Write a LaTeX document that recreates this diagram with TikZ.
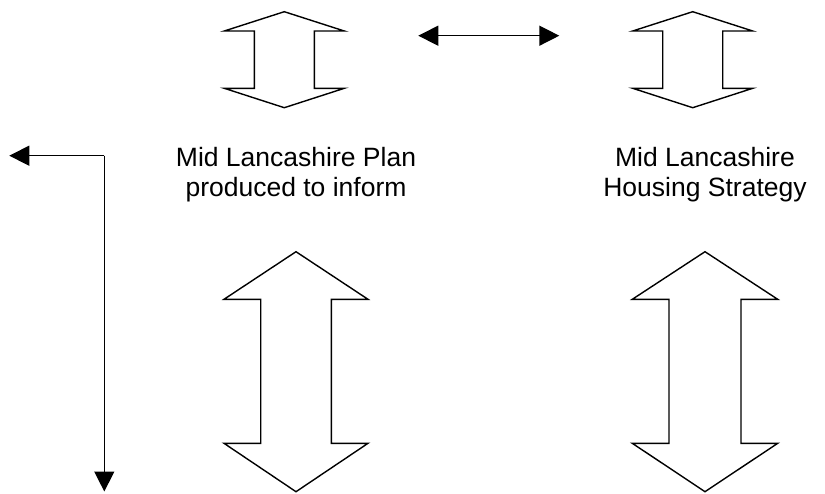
\documentclass[tikz,border=0pt]{standalone}
\usepackage{fontspec}
\setmainfont{Liberation Sans}
\usetikzlibrary{arrows.meta}
\begin{document}
\begin{tikzpicture}[x=1pt,y=-1pt,
  outline/.style={draw=black,line width=1.4pt,line join=miter,fill=white},
  conn/.style={draw=black,line width=1.4pt},
  tipA/.style={-{Triangle[length=20pt,width=20pt]}},
  tipB/.style={{Triangle[length=20pt,width=20pt]}-{Triangle[length=20pt,width=20pt]}},
  lbl/.style={font=\fontsize{26.5pt}{30pt}\selectfont,anchor=base,inner sep=0pt}]
\useasboundingbox (0,0) rectangle (825,493);
% top-left outline double arrow
\draw[outline] (284.3,11.7) -- (344.3,31) -- (314.3,31) -- (314.3,88.3) -- (344.3,88.3)
  -- (284.3,107.7) -- (224.3,88.3) -- (254.3,88.3) -- (254.3,31) -- (224.3,31) -- cycle;
% top-right outline double arrow
\draw[outline] (692.7,11.7) -- (752.7,31) -- (722.7,31) -- (722.7,88.3) -- (752.7,88.3)
  -- (692.7,107.7) -- (632.7,88.3) -- (662.7,88.3) -- (662.7,31) -- (632.7,31) -- cycle;
% bottom-left outline double arrow
\draw[outline] (296,251.7) -- (368,299.3) -- (331.3,299.3) -- (331.3,443.3) -- (368,443.3)
  -- (296,491.7) -- (224,443.3) -- (260.7,443.3) -- (260.7,299.3) -- (224,299.3) -- cycle;
% bottom-right outline double arrow
\draw[outline] (705,251.7) -- (777.7,299.3) -- (741,299.3) -- (741,443.3) -- (777.7,443.3)
  -- (705,491.7) -- (632.3,443.3) -- (669,443.3) -- (669,299.3) -- (632.3,299.3) -- cycle;
% connectors
\coordinate (dl) at (418.3,35.7);
\coordinate (dr) at (559.3,35.7);
\draw[conn,tipB] (dl) -- (dr);
\coordinate (lcorner) at (104.3,155.7);
\coordinate (lleft) at (9.3,155.7);
\coordinate (ldown) at (104.3,491.5);
\draw[conn,tipA] (lcorner) -- (lleft);
\draw[conn,tipA] (lcorner) -- (ldown);
% labels
\node[lbl] (lp1) at (296,166) {Mid Lancashire Plan};
\node[lbl] (lp2) at (296,196) {produced to inform};
\node[lbl] (hs1) at (705,166) {Mid Lancashire};
\node[lbl] (hs2) at (705,196) {Housing Strategy};
\end{tikzpicture}
\end{document}
